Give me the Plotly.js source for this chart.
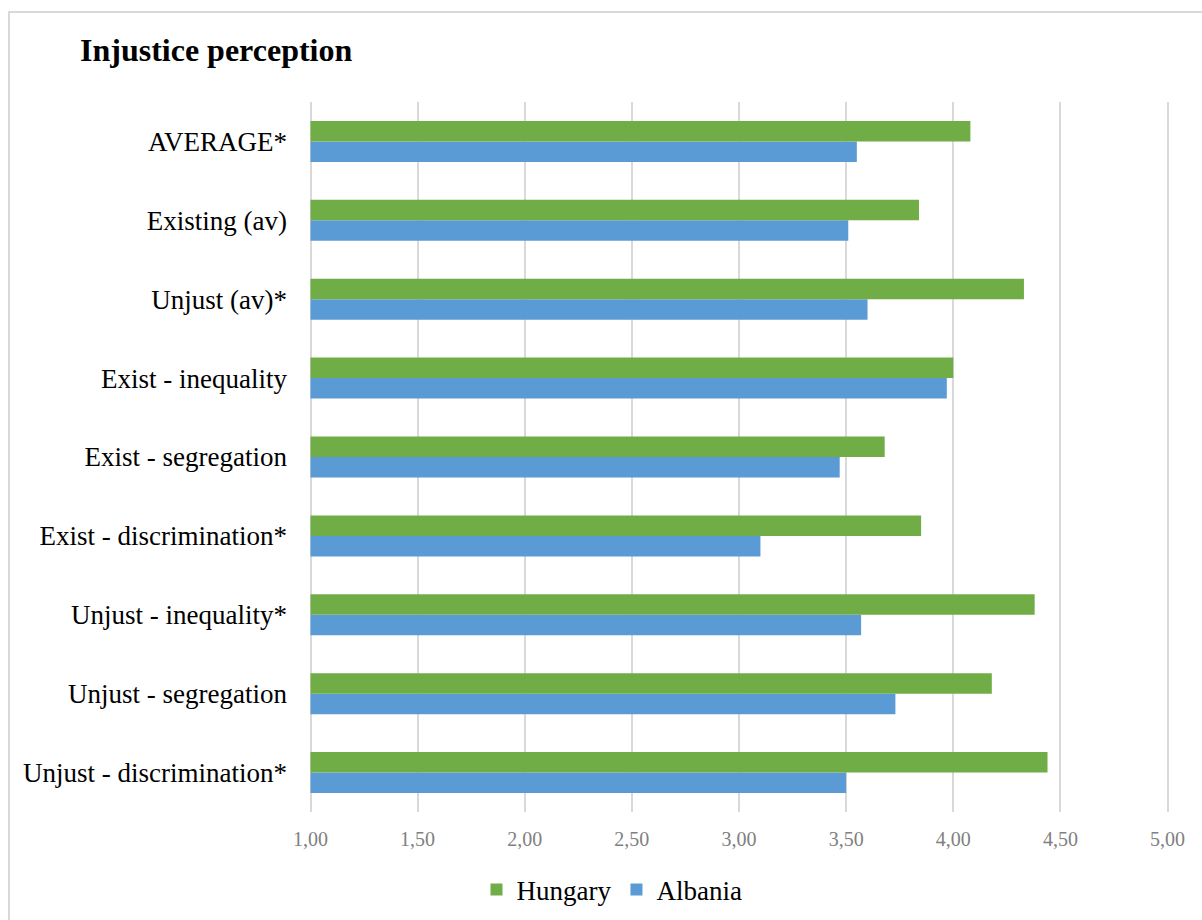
<!DOCTYPE html>
<html>
<head>
<meta charset="utf-8">
<script src="https://cdn.plot.ly/plotly-3.0.1.min.js"></script>
<style>
  html, body { margin: 0; padding: 0; background: #fff; }
  #wrap { position: relative; width: 1202px; height: 920px; overflow: hidden; }
  #chart { position: absolute; left: 0; top: 0; width: 1202px; height: 920px; }
  #frame { position: absolute; left: 8px; top: 11px; width: 1300px; height: 1000px;
           border-top: 2px solid #d9d9d9; border-left: 2px solid #d9d9d9; pointer-events: none; box-sizing: border-box; }
</style>
</head>
<body>
<div id="wrap">
  <div id="chart"></div>
  <div id="frame"></div>
</div>
<script>
// Categories listed bottom to top (Plotly draws the first category at the bottom)
const categories = [
  "Unjust - discrimination*",
  "Unjust - segregation",
  "Unjust - inequality*",
  "Exist - discrimination*",
  "Exist - segregation",
  "Exist - inequality",
  "Unjust (av)*",
  "Existing (av)",
  "AVERAGE*"
];
const hungary = [4.44, 4.18, 4.38, 3.85, 3.68, 4.00, 4.33, 3.84, 4.08];
const albania = [3.50, 3.73, 3.57, 3.10, 3.47, 3.97, 3.60, 3.51, 3.55];
const xTickVals = [1.0, 1.5, 2.0, 2.5, 3.0, 3.5, 4.0, 4.5, 5.0];
const xTickText = ["1,00", "1,50", "2,00", "2,50", "3,00", "3,50", "4,00", "4,50", "5,00"];

const serif = "Liberation Serif, Times New Roman, serif";

const traces = [
  {
    type: "bar", orientation: "h", name: "Albania",
    y: categories, x: albania.map(v => v - 1), base: 1,
    marker: { color: "#5b9bd5" }, legendrank: 2, hoverinfo: "x+y"
  },
  {
    type: "bar", orientation: "h", name: "Hungary",
    y: categories, x: hungary.map(v => v - 1), base: 1,
    marker: { color: "#70ad47" }, legendrank: 1, hoverinfo: "x+y"
  }
];

const layout = {
  width: 1202, height: 920,
  paper_bgcolor: "#ffffff", plot_bgcolor: "#ffffff",
  margin: { l: 309, r: 33.2, t: 101.7, b: 108.3 },
  barmode: "group",
  bargap: 0.48,
  bargroupgap: 0,
  title: {
    text: "<b>Injustice perception</b>",
    font: { family: serif, size: 32, color: "#000000" },
    x: 80 / 1202, xanchor: "left",
    y: 1 - 50 / 920, yanchor: "middle"
  },
  xaxis: {
    range: [0.993, 5.007], tickvals: xTickVals, ticktext: xTickText,
    showgrid: true, gridcolor: "#d9d9d9", gridwidth: 2,
    zeroline: false, showline: false, ticks: "",
    tickfont: { family: serif, size: 20, color: "#808080" },
    ticklabelstandoff: 13, fixedrange: true
  },
  yaxis: {
    type: "category", categoryorder: "array", categoryarray: categories,
    showgrid: false, zeroline: false, showline: false, ticks: "",
    tickfont: { family: serif, size: 27, color: "#000000" },
    ticklabelstandoff: 21, fixedrange: true
  },
  legend: {
    orientation: "h", x: 612 / 1202, xref: "container", xanchor: "center",
    y: 1 - 890 / 920, yref: "container", yanchor: "middle",
    font: { family: serif, size: 27, color: "#000000" },
    traceorder: "normal", itemwidth: 30
  },
  showlegend: true
};

Plotly.newPlot("chart", traces, layout, { displayModeBar: false, staticPlot: true });
</script>
</body>
</html>
